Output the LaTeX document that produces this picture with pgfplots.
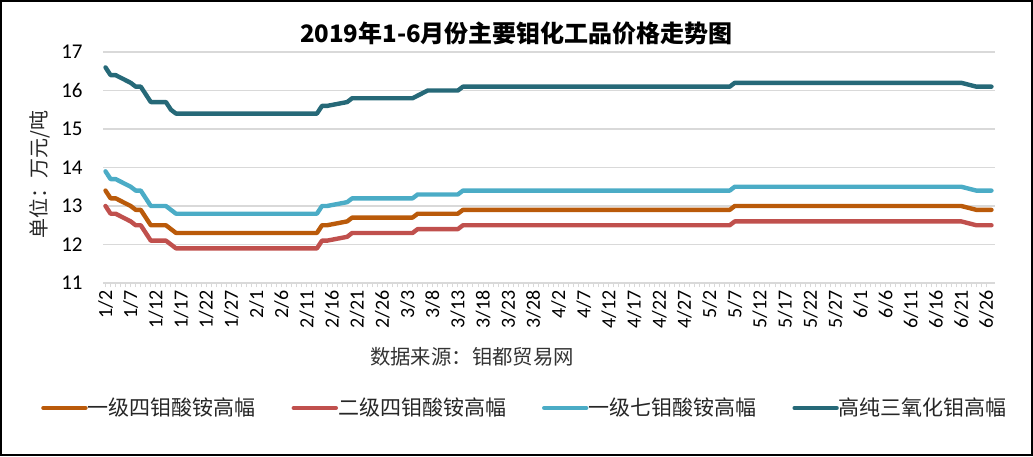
\documentclass[border=0pt]{standalone}
\usepackage{pgfplots}
\pgfplotsset{compat=1.18}
\usepackage{pgfplotstable}
\usepackage{fontspec}
\setmainfont{Carlito}
\newfontfamily\cjk{Noto Sans CJK SC}
\definecolor{cOrange}{RGB}{186,90,10}
\definecolor{cRed}{RGB}{192,80,77}
\definecolor{cLight}{RGB}{75,172,198}
\definecolor{cDark}{RGB}{38,105,120}
\definecolor{cGrid}{RGB}{217,217,217}

\pgfplotstableread{
x y
2 13.4
3 13.2
4 13.2
7 13.0
8 12.9
9 12.9
11 12.5
14 12.5
15 12.4
16 12.3
44 12.3
45 12.5
46 12.5
50 12.6
51 12.7
63 12.7
64 12.8
72 12.8
73 12.9
126 12.9
127 13.0
172 13.0
175 12.9
178 12.9
}\tabA
\pgfplotstableread{
x y
2 13.0
3 12.8
4 12.8
7 12.6
8 12.5
9 12.5
11 12.1
14 12.1
15 12.0
16 11.9
44 11.9
45 12.1
46 12.1
50 12.2
51 12.3
63 12.3
64 12.4
72 12.4
73 12.5
126 12.5
127 12.6
172 12.6
175 12.5
178 12.5
}\tabB
\pgfplotstableread{
x y
2 13.9
3 13.7
4 13.7
7 13.5
8 13.4
9 13.4
11 13.0
14 13.0
15 12.9
16 12.8
44 12.8
45 13.0
46 13.0
50 13.1
51 13.2
63 13.2
64 13.3
72 13.3
73 13.4
126 13.4
127 13.5
172 13.5
175 13.4
178 13.4
}\tabC
\pgfplotstableread{
x y
2 16.6
3 16.4
4 16.4
7 16.2
8 16.1
9 16.1
11 15.7
14 15.7
15 15.5
16 15.4
44 15.4
45 15.6
46 15.6
50 15.7
51 15.8
63 15.8
66 16.0
72 16.0
73 16.1
126 16.1
127 16.2
172 16.2
175 16.1
178 16.1
}\tabD

\begin{document}
\begin{tikzpicture}
\useasboundingbox (0,0) rectangle (516.5pt,228pt);
\begin{axis}[
  at={(51.5pt,86.5pt)}, anchor=south west,
  scale only axis, width=446pt, height=115.5pt,
  xmin=1.5, xmax=178.7, ymin=11, ymax=17,
  ytick={11,12,...,17},
  xtick={2,7,...,177},
  xticklabels={1/2,1/7,1/12,1/17,1/22,1/27,2/1,2/6,2/11,2/16,2/21,2/26,3/3,3/8,3/13,3/18,3/23,3/28,4/2,4/7,4/12,4/17,4/22,4/27,5/2,5/7,5/12,5/17,5/22,5/27,6/1,6/6,6/11,6/16,6/21,6/26},
  minor x tick num=4,
  tick align=outside,
  major tick length=2pt, minor tick length=2pt,
  xtick style={draw=cGrid, line width=0.5pt},
  minor tick style={draw=cGrid, line width=0.5pt},
  ytick style={draw=none},
  axis x line*=bottom, axis y line*=left,
  x axis line style={draw=cGrid, line width=0.7pt, -},
  y axis line style={draw=none},
  ymajorgrids, grid style={draw=cGrid, line width=0.7pt},
  xticklabel style={rotate=90, anchor=east, font=\fontsize{10}{12}\selectfont, inner sep=1.5pt},
  yticklabel style={font=\fontsize{10.5}{12}\selectfont, inner sep=2pt, xshift=-6pt},
  /pgf/number format/assume math mode=true,
  ylabel={\cjk 单位：万元/吨},
  ylabel style={at={(axis description cs:-0.071,0.47)}, anchor=center, font=\fontsize{10}{12}\selectfont, color=black!85},
  legend columns=4,
  legend style={draw=none, fill=none, at={(axis description cs:0.472,-0.541)}, anchor=center,
    font=\cjk\fontsize{10.5}{12}\selectfont, text=black!85,
    nodes={inner xsep=0pt},
    /tikz/every even column/.append style={column sep=18pt},
    inner xsep=0pt, inner ysep=0pt},
  legend image code/.code={\draw[#1, line width=2.2pt] (0pt,0pt) -- (21pt,0pt);},
  every axis plot/.append style={line width=2.2pt, line join=round, line cap=round, no markers},
  clip=false,
]
\addplot[cOrange] table[x=x,y=y]{\tabA};
\addlegendentry{一级四钼酸铵高幅}
\addplot[cRed] table[x=x,y=y]{\tabB};
\addlegendentry{二级四钼酸铵高幅}
\addplot[cLight] table[x=x,y=y]{\tabC};
\addlegendentry{一级七钼酸铵高幅}
\addplot[cDark] table[x=x,y=y]{\tabD};
\addlegendentry{高纯三氧化钼高幅}
\end{axis}
\node[font=\cjk\bfseries\fontsize{12}{14}\selectfont] at (258.25pt,211.5pt) {2019年1-6月份主要钼化工品价格走势图};
\node[font=\cjk\fontsize{10.2}{12}\selectfont, text=black!80] at (236pt,49.5pt) {数据来源：钼都贸易网};
\draw[black, line width=1pt] (0.5pt,0.5pt) rectangle (516pt,227.5pt);
\end{tikzpicture}
\end{document}
